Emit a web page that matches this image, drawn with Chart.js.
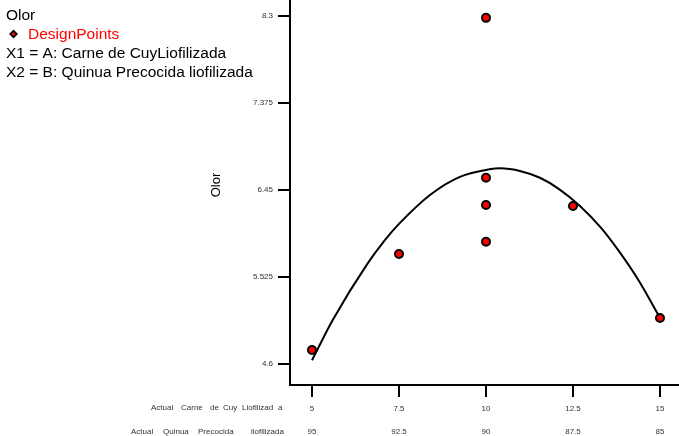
<!DOCTYPE html>
<html>
<head>
<meta charset="utf-8">
<script src="https://cdn.jsdelivr.net/npm/chart.js@4/dist/chart.umd.min.js"></script>
<style>
  html, body { margin: 0; padding: 0; background: #fff; }
  #wrap { width: 679px; height: 436px; position: relative; }
</style>
</head>
<body>
<div id="wrap"><canvas id="olorChart"></canvas></div>
<script>
// === DATOS ===
const carneTicks = [5, 7.5, 10, 12.5, 15];
const quinuaTicks = ['95', '92.5', '90', '87.5', '85'];
const olorTicks = [4.6, 5.525, 6.45, 7.375, 8.3];

// puntos de diseño (A: carne de cuy, respuesta: olor)
const designX = [5, 7.5, 10, 10, 10, 10, 12.5, 15];
const designY = [4.75, 5.77, 8.28, 6.58, 6.29, 5.90, 6.28, 5.09];

// curva del modelo
const curveX = [5, 5.6, 6.6, 7.1, 7.5, 8.4, 9.25, 10.1, 10.4, 11, 11.55, 12.1, 12.7, 13.3, 13.8, 14.4, 15];
const curveY = [4.64, 5.07, 5.67, 5.92, 6.09, 6.40, 6.59, 6.67, 6.68, 6.65, 6.58, 6.46, 6.28, 6.05, 5.81, 5.48, 5.09];

const FONT = '"Liberation Sans", Arial, sans-serif';

// === TEXTOS EXTRA (leyenda y nombres de factores) ===
const textPlugin = {
  id: 'textos',
  afterDraw(chart) {
    const c = chart.ctx;
    c.save();
    c.textBaseline = 'alphabetic';
    c.textAlign = 'left';
    c.font = '15.5px ' + FONT;
    c.fillStyle = '#000';
    c.fillText('Olor', 6, 20);
    c.fillStyle = '#ff0000';
    c.fillText('DesignPoints', 28, 38.5);
    c.fillStyle = '#000';
    c.fillText('X1 = A: Carne de CuyLiofilizada', 6, 57.5);
    c.fillText('X2 = B: Quinua Precocida liofilizada', 6, 76.5);

    // rombo de la leyenda
    c.beginPath();
    c.moveTo(13.5, 29.5); c.lineTo(18, 34); c.lineTo(13.5, 38.5); c.lineTo(9, 34);
    c.closePath();
    c.fillStyle = '#000';
    c.fill();
    c.beginPath();
    c.moveTo(13.5, 32); c.lineTo(15.5, 34); c.lineTo(13.5, 36); c.lineTo(11.5, 34);
    c.closePath();
    c.fillStyle = '#ff0000';
    c.fill();

    // titulo eje y
    c.save();
    c.translate(216, 185);
    c.rotate(-Math.PI / 2);
    c.textAlign = 'center';
    c.textBaseline = 'middle';
    c.font = '13px ' + FONT;
    c.fillStyle = '#000';
    c.fillText('Olor', 0, 0);
    c.restore();

    // etiquetas de las filas del eje x
    c.font = '8px ' + FONT;
    c.fillStyle = '#333';
    c.textBaseline = 'middle';
    const row1 = [['Actual', 151], ['Carne', 181], ['de', 210], ['Cuy', 223], ['Liofilizad', 242], ['a', 278]];
    const row2 = [['Actual', 131], ['Quinua', 163], ['Precocida', 198], ['liofilizada', 251]];
    row1.forEach(w => c.fillText(w[0], w[1], 408));
    row2.forEach(w => c.fillText(w[0], w[1], 432));
    c.restore();
  }
};

const ctx = document.getElementById('olorChart').getContext('2d');
const olorChart = new Chart(ctx, {
  type: 'scatter',
  data: {
    datasets: [{
      label: 'Curva',
      data: curveX.map((x, i) => ({ x: x, y: curveY[i] })),
      showLine: true,
      borderColor: '#000',
      borderWidth: 2,
      pointRadius: 0,
      cubicInterpolationMode: 'monotone',
      fill: false,
      order: 2
    }, {
      label: 'DesignPoints',
      data: designX.map((x, i) => ({ x: x, y: designY[i] })),
      showLine: false,
      backgroundColor: '#ff0000',
      borderColor: '#000',
      borderWidth: 2,
      pointRadius: 4,
      order: 1
    }]
  },
  options: {
    responsive: true,
    maintainAspectRatio: false,
    animation: false,
    layout: { padding: 0, autoPadding: false },
    plugins: { legend: { display: false }, tooltip: { enabled: false } },
    scales: {
      x: {
        type: 'linear',
        min: 4.368,
        max: 15.546,
        afterBuildTicks: s => { s.ticks = carneTicks.map(v => ({ value: v })); },
        afterFit: s => { s.height = 51; s.paddingLeft = 0; s.paddingRight = 0; },
        grid: { drawOnChartArea: false, drawTicks: true, tickLength: 12, color: '#000', lineWidth: 2 },
        border: { color: '#000', width: 2 },
        ticks: {
          maxRotation: 0,
          autoSkip: false,
          padding: 0,
          color: '#333',
          font: { family: FONT, size: 8, lineHeight: 2.9 },
          callback: (v) => {
            const i = carneTicks.indexOf(v);
            return [String(v), quinuaTicks[i]];
          }
        }
      },
      y: {
        type: 'linear',
        min: 4.377,
        max: 8.47,
        afterBuildTicks: s => { s.ticks = olorTicks.map(v => ({ value: v })); },
        afterFit: s => { s.width = 290; s.paddingTop = 0; s.paddingBottom = 0; },
        grid: { drawOnChartArea: false, drawTicks: true, tickLength: 12, color: '#000', lineWidth: 2 },
        border: { color: '#000', width: 2 },
        ticks: {
          padding: 5,
          color: '#333',
          font: { family: FONT, size: 8 },
          callback: v => String(v)
        }
      }
    }
  },
  plugins: [textPlugin]
});
</script>
</body>
</html>
